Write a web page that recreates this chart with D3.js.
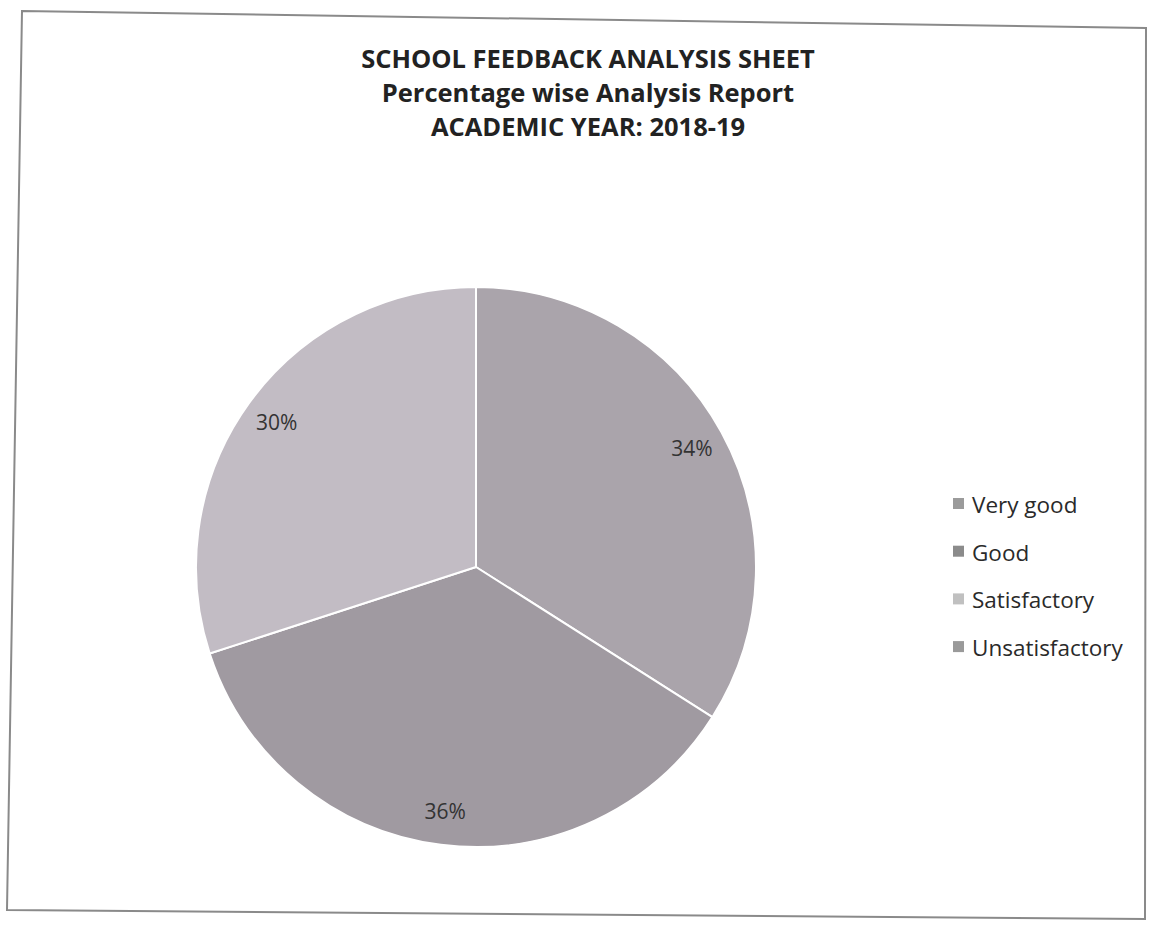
<!DOCTYPE html>
<html>
<head>
<meta charset="utf-8">
<script src="https://cdn.jsdelivr.net/npm/d3@7"></script>
<style>
  body { margin: 0; background: #fff; }
</style>
</head>
<body>
<div id="chart"></div>
<script>
// chart data
const categories = ["Very good", "Good", "Satisfactory", "Unsatisfactory"];
const percentValues = [34, 36, 30, 0];
const titleLines = ["SCHOOL FEEDBACK ANALYSIS SHEET", "Percentage wise Analysis Report", "ACADEMIC YEAR: 2018-19"];

// colours for slices and legend swatches
const sliceColors = ["#aaa4ab", "#a09aa1", "#c2bcc4", "#9c979d"];
const swatchColors = ["#9b9b9b", "#8b8b8b", "#c0c0c0", "#9a9a9a"];

const width = 1151, height = 926;

const svg = d3.select("#chart")
    .append("svg")
    .attr("width", width)
    .attr("height", height);

// outer frame (scanned page is slightly skewed)
svg.append("path")
    .attr("d", "M22,11 L1146,28 L1145,919 L7,910 Z")
    .attr("fill", "none")
    .attr("stroke", "#8a8a8a")
    .attr("stroke-width", 2);

// title
const title = svg.append("g")
    .attr("font-family", "'Open Sans', sans-serif")
    .attr("font-weight", "bold")
    .attr("font-size", "25.5px")
    .attr("fill", "#222")
    .attr("text-anchor", "middle");

title.selectAll("text")
    .data(titleLines)
    .enter()
    .append("text")
    .attr("x", 588)
    .attr("y", (d, i) => 68 + i * 34)
    .text(d => d);

// pie
const cx = 476, cy = 567, radius = 280;

const pie = d3.pie()
    .sort(null)
    .value(d => d.value);

const arcs = pie(categories.map((c, i) => ({name: c, value: percentValues[i], color: sliceColors[i]})));

const arc = d3.arc()
    .innerRadius(0)
    .outerRadius(radius);

const labelArc = d3.arc()
    .innerRadius(radius * 0.88)
    .outerRadius(radius * 0.88);

const pieG = svg.append("g")
    .attr("transform", "translate(" + cx + "," + cy + ")");

pieG.selectAll("path")
    .data(arcs.filter(d => d.value > 0))
    .enter()
    .append("path")
    .attr("d", arc)
    .attr("fill", d => d.data.color)
    .attr("stroke", "#fff")
    .attr("stroke-width", 2);

pieG.selectAll(".pct_label")
    .data(arcs.filter(d => d.value > 0))
    .enter()
    .append("text")
    .attr("class", "pct_label")
    .attr("transform", d => "translate(" + labelArc.centroid(d) + ")")
    .attr("dy", "0.35em")
    .attr("text-anchor", "middle")
    .attr("font-family", "'Open Sans', sans-serif")
    .attr("font-size", "21px")
    .attr("fill", "#333")
    .text(d => d.data.value + "%");

// legend
const legend = svg.append("g")
    .attr("transform", "translate(953,513)");

const items = legend.selectAll("g")
    .data(categories)
    .enter()
    .append("g")
    .attr("transform", (d, i) => "translate(0," + i * 47.7 + ")");

items.append("rect")
    .attr("x", 0)
    .attr("y", -15)
    .attr("width", 11)
    .attr("height", 11)
    .attr("fill", (d, i) => swatchColors[i]);

items.append("text")
    .attr("x", 19)
    .attr("y", 0)
    .attr("font-family", "'Open Sans', sans-serif")
    .attr("font-size", "22.5px")
    .attr("fill", "#2a2a2a")
    .text(d => d);
</script>
</body>
</html>
